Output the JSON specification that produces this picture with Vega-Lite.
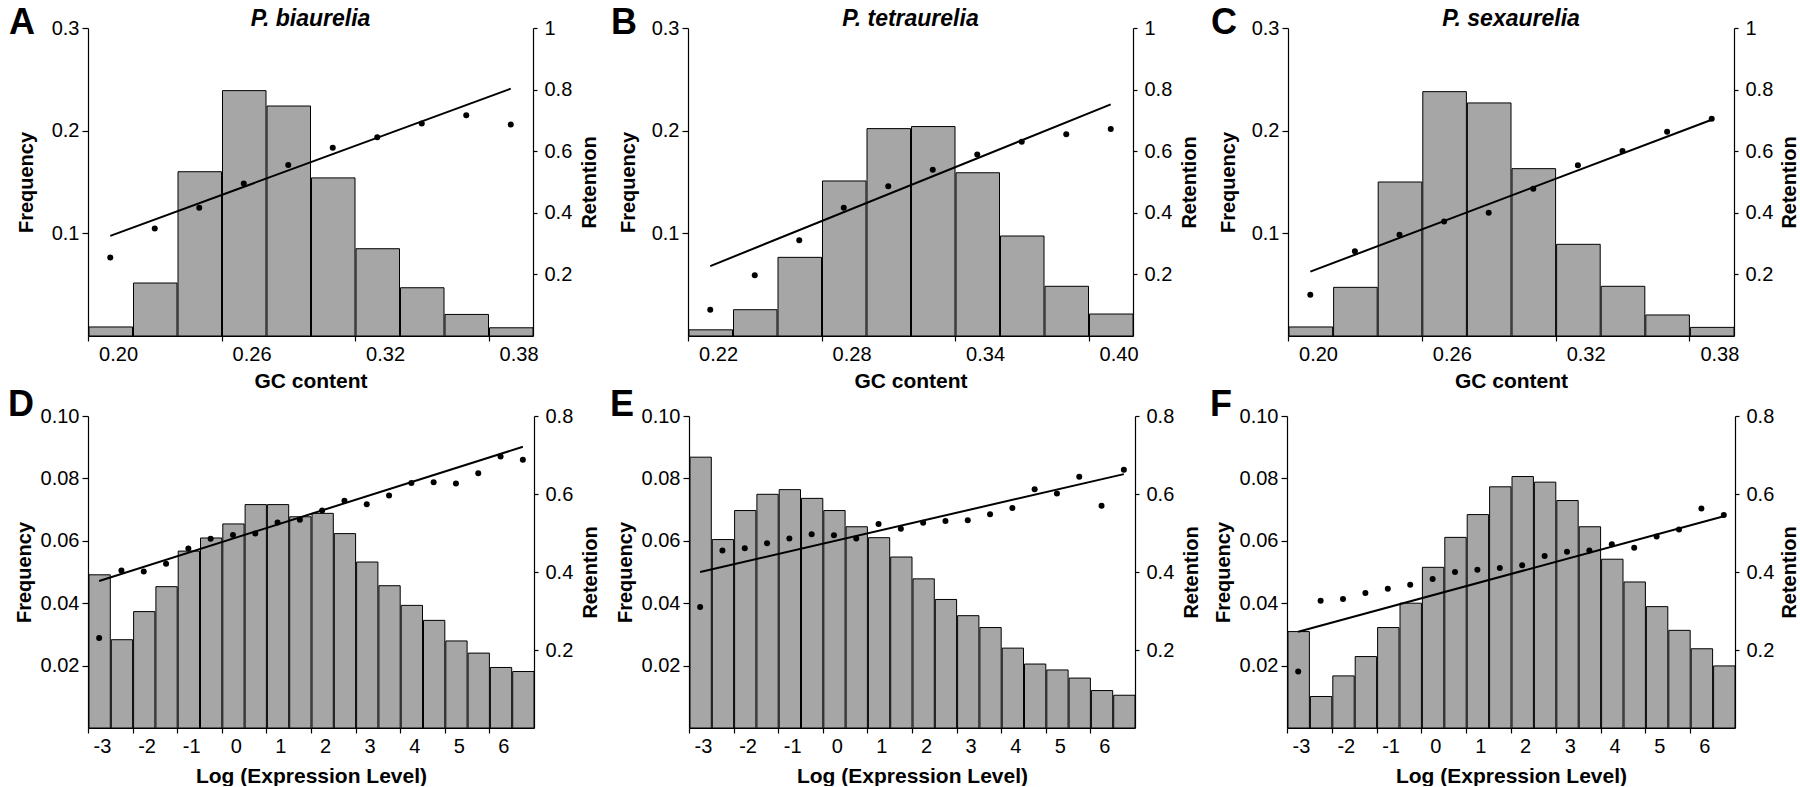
{
  "$schema": "https://vega.github.io/schema/vega-lite/v6.json",
  "background": "white",
  "padding": {"left": 8, "top": 5, "right": 0, "bottom": 0},
  "config": {
    "font": "Liberation Sans",
    "view": {"stroke": null},
    "axis": {
      "grid": false, "domainColor": "#000", "domainWidth": 1.2, "tickColor": "#000", "tickWidth": 1.2,
      "labelColor": "#000", "labelFontSize": 20, "labelFont": "Liberation Sans", "labelFlush": false, "labelOverlap": false,
      "titleFont": "Liberation Sans", "titleFontSize": 20, "titleFontWeight": "bold", "titleColor": "#000"
    },
    "axisX": {"titleFontSize": 21},
    "axisRight": {"titleAngle": 270, "titleBaseline": "top"},
    "title": {"color": "#000", "font": "Liberation Sans"}
  },
  "datasets": {
    "A": [
      {"lo": 0.19, "hi": 0.21, "mid": 0.20, "freq": 0.0088, "ret": 0.255},
      {"lo": 0.21, "hi": 0.23, "mid": 0.22, "freq": 0.0516, "ret": 0.349},
      {"lo": 0.23, "hi": 0.25, "mid": 0.24, "freq": 0.160, "ret": 0.416},
      {"lo": 0.25, "hi": 0.27, "mid": 0.26, "freq": 0.239, "ret": 0.495},
      {"lo": 0.27, "hi": 0.29, "mid": 0.28, "freq": 0.224, "ret": 0.555},
      {"lo": 0.29, "hi": 0.31, "mid": 0.30, "freq": 0.154, "ret": 0.611},
      {"lo": 0.31, "hi": 0.33, "mid": 0.32, "freq": 0.085, "ret": 0.645},
      {"lo": 0.33, "hi": 0.35, "mid": 0.34, "freq": 0.047, "ret": 0.690},
      {"lo": 0.35, "hi": 0.37, "mid": 0.36, "freq": 0.021, "ret": 0.717},
      {"lo": 0.37, "hi": 0.39, "mid": 0.38, "freq": 0.008, "ret": 0.687}
    ],
    "A_fit": [{"mid": 0.20, "ret": 0.325}, {"mid": 0.38, "ret": 0.803}],
    "B": [
      {"lo": 0.21, "hi": 0.23, "mid": 0.22, "freq": 0.006, "ret": 0.085},
      {"lo": 0.23, "hi": 0.25, "mid": 0.24, "freq": 0.0256, "ret": 0.197},
      {"lo": 0.25, "hi": 0.27, "mid": 0.26, "freq": 0.0766, "ret": 0.311},
      {"lo": 0.27, "hi": 0.29, "mid": 0.28, "freq": 0.151, "ret": 0.416},
      {"lo": 0.29, "hi": 0.31, "mid": 0.30, "freq": 0.202, "ret": 0.486},
      {"lo": 0.31, "hi": 0.33, "mid": 0.32, "freq": 0.204, "ret": 0.540},
      {"lo": 0.33, "hi": 0.35, "mid": 0.34, "freq": 0.159, "ret": 0.589},
      {"lo": 0.35, "hi": 0.37, "mid": 0.36, "freq": 0.0974, "ret": 0.631},
      {"lo": 0.37, "hi": 0.39, "mid": 0.38, "freq": 0.0484, "ret": 0.655},
      {"lo": 0.39, "hi": 0.41, "mid": 0.40, "freq": 0.0214, "ret": 0.672}
    ],
    "B_fit": [{"mid": 0.22, "ret": 0.227}, {"mid": 0.40, "ret": 0.752}],
    "C": [
      {"lo": 0.19, "hi": 0.21, "mid": 0.20, "freq": 0.0088, "ret": 0.134},
      {"lo": 0.21, "hi": 0.23, "mid": 0.22, "freq": 0.0474, "ret": 0.275},
      {"lo": 0.23, "hi": 0.25, "mid": 0.24, "freq": 0.150, "ret": 0.329},
      {"lo": 0.25, "hi": 0.27, "mid": 0.26, "freq": 0.238, "ret": 0.372},
      {"lo": 0.27, "hi": 0.29, "mid": 0.28, "freq": 0.227, "ret": 0.400},
      {"lo": 0.29, "hi": 0.31, "mid": 0.30, "freq": 0.163, "ret": 0.478},
      {"lo": 0.31, "hi": 0.33, "mid": 0.32, "freq": 0.0893, "ret": 0.554},
      {"lo": 0.33, "hi": 0.35, "mid": 0.34, "freq": 0.0484, "ret": 0.601},
      {"lo": 0.35, "hi": 0.37, "mid": 0.36, "freq": 0.0205, "ret": 0.663},
      {"lo": 0.37, "hi": 0.39, "mid": 0.38, "freq": 0.0084, "ret": 0.705}
    ],
    "C_fit": [{"mid": 0.20, "ret": 0.209}, {"mid": 0.38, "ret": 0.702}],
    "D": [
      {"lo": -3.25, "hi": -2.75, "mid": -3.0, "freq": 0.0491, "ret": 0.231},
      {"lo": -2.75, "hi": -2.25, "mid": -2.5, "freq": 0.0283, "ret": 0.404},
      {"lo": -2.25, "hi": -1.75, "mid": -2.0, "freq": 0.0373, "ret": 0.401},
      {"lo": -1.75, "hi": -1.25, "mid": -1.5, "freq": 0.0453, "ret": 0.421},
      {"lo": -1.25, "hi": -0.75, "mid": -1.0, "freq": 0.0567, "ret": 0.460},
      {"lo": -0.75, "hi": -0.25, "mid": -0.5, "freq": 0.0609, "ret": 0.485},
      {"lo": -0.25, "hi": 0.25, "mid": 0.0, "freq": 0.0654, "ret": 0.495},
      {"lo": 0.25, "hi": 0.75, "mid": 0.5, "freq": 0.0716, "ret": 0.499},
      {"lo": 0.75, "hi": 1.25, "mid": 1.0, "freq": 0.0716, "ret": 0.527},
      {"lo": 1.25, "hi": 1.75, "mid": 1.5, "freq": 0.0677, "ret": 0.534},
      {"lo": 1.75, "hi": 2.25, "mid": 2.0, "freq": 0.0688, "ret": 0.558},
      {"lo": 2.25, "hi": 2.75, "mid": 2.5, "freq": 0.0623, "ret": 0.583},
      {"lo": 2.75, "hi": 3.25, "mid": 3.0, "freq": 0.0532, "ret": 0.574},
      {"lo": 3.25, "hi": 3.75, "mid": 3.5, "freq": 0.0456, "ret": 0.596},
      {"lo": 3.75, "hi": 4.25, "mid": 4.0, "freq": 0.0393, "ret": 0.628},
      {"lo": 4.25, "hi": 4.75, "mid": 4.5, "freq": 0.0345, "ret": 0.630},
      {"lo": 4.75, "hi": 5.25, "mid": 5.0, "freq": 0.0279, "ret": 0.627},
      {"lo": 5.25, "hi": 5.75, "mid": 5.5, "freq": 0.0240, "ret": 0.653},
      {"lo": 5.75, "hi": 6.25, "mid": 6.0, "freq": 0.0194, "ret": 0.696},
      {"lo": 6.25, "hi": 6.75, "mid": 6.5, "freq": 0.0181, "ret": 0.688}
    ],
    "D_fit": [{"mid": -3.0, "ret": 0.377}, {"mid": 6.5, "ret": 0.721}],
    "E": [
      {"lo": -3.25, "hi": -2.75, "mid": -3.0, "freq": 0.0868, "ret": 0.310},
      {"lo": -2.75, "hi": -2.25, "mid": -2.5, "freq": 0.0604, "ret": 0.455},
      {"lo": -2.25, "hi": -1.75, "mid": -2.0, "freq": 0.0697, "ret": 0.461},
      {"lo": -1.75, "hi": -1.25, "mid": -1.5, "freq": 0.0749, "ret": 0.474},
      {"lo": -1.25, "hi": -0.75, "mid": -1.0, "freq": 0.0764, "ret": 0.486},
      {"lo": -0.75, "hi": -0.25, "mid": -0.5, "freq": 0.0736, "ret": 0.497},
      {"lo": -0.25, "hi": 0.25, "mid": 0.0, "freq": 0.0697, "ret": 0.494},
      {"lo": 0.25, "hi": 0.75, "mid": 0.5, "freq": 0.0645, "ret": 0.486},
      {"lo": 0.75, "hi": 1.25, "mid": 1.0, "freq": 0.0610, "ret": 0.523},
      {"lo": 1.25, "hi": 1.75, "mid": 1.5, "freq": 0.0548, "ret": 0.511},
      {"lo": 1.75, "hi": 2.25, "mid": 2.0, "freq": 0.0478, "ret": 0.526},
      {"lo": 2.25, "hi": 2.75, "mid": 2.5, "freq": 0.0412, "ret": 0.531},
      {"lo": 2.75, "hi": 3.25, "mid": 3.0, "freq": 0.0360, "ret": 0.533},
      {"lo": 3.25, "hi": 3.75, "mid": 3.5, "freq": 0.0322, "ret": 0.548},
      {"lo": 3.75, "hi": 4.25, "mid": 4.0, "freq": 0.0256, "ret": 0.564},
      {"lo": 4.25, "hi": 4.75, "mid": 4.5, "freq": 0.0205, "ret": 0.612},
      {"lo": 4.75, "hi": 5.25, "mid": 5.0, "freq": 0.0186, "ret": 0.601},
      {"lo": 5.25, "hi": 5.75, "mid": 5.5, "freq": 0.0160, "ret": 0.644},
      {"lo": 5.75, "hi": 6.25, "mid": 6.0, "freq": 0.0120, "ret": 0.570},
      {"lo": 6.25, "hi": 6.75, "mid": 6.5, "freq": 0.0105, "ret": 0.662}
    ],
    "E_fit": [{"mid": -3.0, "ret": 0.400}, {"mid": 6.5, "ret": 0.651}],
    "F": [
      {"lo": -3.25, "hi": -2.75, "mid": -3.0, "freq": 0.0309, "ret": 0.145},
      {"lo": -2.75, "hi": -2.25, "mid": -2.5, "freq": 0.0101, "ret": 0.326},
      {"lo": -2.25, "hi": -1.75, "mid": -2.0, "freq": 0.0167, "ret": 0.331},
      {"lo": -1.75, "hi": -1.25, "mid": -1.5, "freq": 0.0229, "ret": 0.346},
      {"lo": -1.25, "hi": -0.75, "mid": -1.0, "freq": 0.0322, "ret": 0.357},
      {"lo": -0.75, "hi": -0.25, "mid": -0.5, "freq": 0.0400, "ret": 0.367},
      {"lo": -0.25, "hi": 0.25, "mid": 0.0, "freq": 0.0515, "ret": 0.382},
      {"lo": 0.25, "hi": 0.75, "mid": 0.5, "freq": 0.0611, "ret": 0.400},
      {"lo": 0.75, "hi": 1.25, "mid": 1.0, "freq": 0.0684, "ret": 0.406},
      {"lo": 1.25, "hi": 1.75, "mid": 1.5, "freq": 0.0773, "ret": 0.410},
      {"lo": 1.75, "hi": 2.25, "mid": 2.0, "freq": 0.0806, "ret": 0.417},
      {"lo": 2.25, "hi": 2.75, "mid": 2.5, "freq": 0.0788, "ret": 0.441},
      {"lo": 2.75, "hi": 3.25, "mid": 3.0, "freq": 0.0729, "ret": 0.452},
      {"lo": 3.25, "hi": 3.75, "mid": 3.5, "freq": 0.0645, "ret": 0.455},
      {"lo": 3.75, "hi": 4.25, "mid": 4.0, "freq": 0.0541, "ret": 0.471},
      {"lo": 4.25, "hi": 4.75, "mid": 4.5, "freq": 0.0468, "ret": 0.462},
      {"lo": 4.75, "hi": 5.25, "mid": 5.0, "freq": 0.0389, "ret": 0.491},
      {"lo": 5.25, "hi": 5.75, "mid": 5.5, "freq": 0.0313, "ret": 0.509},
      {"lo": 5.75, "hi": 6.25, "mid": 6.0, "freq": 0.0254, "ret": 0.563},
      {"lo": 6.25, "hi": 6.75, "mid": 6.5, "freq": 0.0199, "ret": 0.546}
    ],
    "F_fit": [{"mid": -3.0, "ret": 0.247}, {"mid": 6.5, "ret": 0.543}]
  },
  "spacing": -4,
  "vconcat": [
    {
      "spacing": 11,
      "hconcat": [
        {
          "width": 445, "height": 308,
          "title": {"text": "P. biaurelia", "fontSize": 23, "fontStyle": "italic", "fontWeight": "bold", "offset": -26},
          "data": {"name": "A"},
          "layer": [
            {"layer": [
              {"mark": {"type": "bar", "fill": "#a6a6a6", "stroke": "#000", "strokeWidth": 1},
               "encoding": {
                 "x": {"field": "lo", "type": "quantitative", "bin": "binned", "scale": {"domain": [0.19, 0.39], "nice": false, "zero": false},
                       "axis": {"title": "GC content", "values": [0.2, 0.26, 0.32, 0.38], "format": ".2f", "tickOffset": -22.2, "labelOffset": 30, "tickSize": 5, "labelPadding": 3, "titlePadding": 6}},
                 "x2": {"field": "hi"},
                 "y": {"field": "freq", "type": "quantitative", "scale": {"domain": [0, 0.3], "nice": false},
                       "axis": {"title": "Frequency", "values": [0.1, 0.2, 0.3], "format": ".1f", "tickSize": 6, "labelPadding": 3, "titlePadding": 15}}
               }},
              {"data": {"values": [{}]},
               "mark": {"type": "text", "text": "A", "fontSize": 36, "fontWeight": "bold", "align": "center", "baseline": "alphabetic", "dx": -66, "dy": 6},
               "encoding": {"x": {"datum": 0.19}, "y": {"datum": 0.3}}}
            ]},
            {"encoding": {
               "x": {"field": "mid", "type": "quantitative", "scale": {"domain": [0.19, 0.39], "nice": false, "zero": false},
                     "axis": {"title": "GC content", "values": [0.2, 0.26, 0.32, 0.38], "format": ".2f", "tickOffset": -22.2, "labelOffset": 30, "tickSize": 5, "labelPadding": 3, "titlePadding": 6}},
               "y": {"field": "ret", "type": "quantitative", "scale": {"domain": [0, 1], "nice": false},
                     "axis": {"title": "Retention", "orient": "right", "values": [0.2, 0.4, 0.6, 0.8, 1], "format": "~g", "tickSize": 4, "labelPadding": 7, "titlePadding": 8}}},
             "layer": [
               {"data": {"name": "A_fit"}, "mark": {"type": "line", "color": "#000", "strokeWidth": 2}},
               {"mark": {"type": "circle", "color": "#000", "size": 36, "opacity": 1}}
             ]}
          ],
          "resolve": {"scale": {"y": "independent"}}
        },
        {
          "width": 445, "height": 308,
          "title": {"text": "P. tetraurelia", "fontSize": 23, "fontStyle": "italic", "fontWeight": "bold", "offset": -26},
          "data": {"name": "B"},
          "layer": [
            {"layer": [
              {"mark": {"type": "bar", "fill": "#a6a6a6", "stroke": "#000", "strokeWidth": 1},
               "encoding": {
                 "x": {"field": "lo", "type": "quantitative", "bin": "binned", "scale": {"domain": [0.21, 0.41], "nice": false, "zero": false},
                       "axis": {"title": "GC content", "values": [0.22, 0.28, 0.34, 0.40], "format": ".2f", "tickOffset": -22.2, "labelOffset": 30, "tickSize": 5, "labelPadding": 3, "titlePadding": 6}},
                 "x2": {"field": "hi"},
                 "y": {"field": "freq", "type": "quantitative", "scale": {"domain": [0, 0.3], "nice": false},
                       "axis": {"title": "Frequency", "values": [0.1, 0.2, 0.3], "format": ".1f", "tickSize": 6, "labelPadding": 3, "titlePadding": 13}}
               }},
              {"data": {"values": [{}]},
               "mark": {"type": "text", "text": "B", "fontSize": 36, "fontWeight": "bold", "align": "center", "baseline": "alphabetic", "dx": -64, "dy": 6},
               "encoding": {"x": {"datum": 0.21}, "y": {"datum": 0.3}}}
            ]},
            {"encoding": {
               "x": {"field": "mid", "type": "quantitative", "scale": {"domain": [0.21, 0.41], "nice": false, "zero": false},
                     "axis": {"title": "GC content", "values": [0.22, 0.28, 0.34, 0.40], "format": ".2f", "tickOffset": -22.2, "labelOffset": 30, "tickSize": 5, "labelPadding": 3, "titlePadding": 6}},
               "y": {"field": "ret", "type": "quantitative", "scale": {"domain": [0, 1], "nice": false},
                     "axis": {"title": "Retention", "orient": "right", "values": [0.2, 0.4, 0.6, 0.8, 1], "format": "~g", "tickSize": 4, "labelPadding": 7, "titlePadding": 8}}},
             "layer": [
               {"data": {"name": "B_fit"}, "mark": {"type": "line", "color": "#000", "strokeWidth": 2}},
               {"mark": {"type": "circle", "color": "#000", "size": 36, "opacity": 1}}
             ]}
          ],
          "resolve": {"scale": {"y": "independent"}}
        },
        {
          "width": 446, "height": 308,
          "title": {"text": "P. sexaurelia", "fontSize": 23, "fontStyle": "italic", "fontWeight": "bold", "offset": -26},
          "data": {"name": "C"},
          "layer": [
            {"layer": [
              {"mark": {"type": "bar", "fill": "#a6a6a6", "stroke": "#000", "strokeWidth": 1},
               "encoding": {
                 "x": {"field": "lo", "type": "quantitative", "bin": "binned", "scale": {"domain": [0.19, 0.39], "nice": false, "zero": false},
                       "axis": {"title": "GC content", "values": [0.2, 0.26, 0.32, 0.38], "format": ".2f", "tickOffset": -22.3, "labelOffset": 30, "tickSize": 5, "labelPadding": 3, "titlePadding": 6}},
                 "x2": {"field": "hi"},
                 "y": {"field": "freq", "type": "quantitative", "scale": {"domain": [0, 0.3], "nice": false},
                       "axis": {"title": "Frequency", "values": [0.1, 0.2, 0.3], "format": ".1f", "tickSize": 6, "labelPadding": 3, "titlePadding": 13}}
               }},
              {"data": {"values": [{}]},
               "mark": {"type": "text", "text": "C", "fontSize": 36, "fontWeight": "bold", "align": "center", "baseline": "alphabetic", "dx": -64, "dy": 6},
               "encoding": {"x": {"datum": 0.19}, "y": {"datum": 0.3}}}
            ]},
            {"encoding": {
               "x": {"field": "mid", "type": "quantitative", "scale": {"domain": [0.19, 0.39], "nice": false, "zero": false},
                     "axis": {"title": "GC content", "values": [0.2, 0.26, 0.32, 0.38], "format": ".2f", "tickOffset": -22.3, "labelOffset": 30, "tickSize": 5, "labelPadding": 3, "titlePadding": 6}},
               "y": {"field": "ret", "type": "quantitative", "scale": {"domain": [0, 1], "nice": false},
                     "axis": {"title": "Retention", "orient": "right", "values": [0.2, 0.4, 0.6, 0.8, 1], "format": "~g", "tickSize": 4, "labelPadding": 7, "titlePadding": 7}}},
             "layer": [
               {"data": {"name": "C_fit"}, "mark": {"type": "line", "color": "#000", "strokeWidth": 2}},
               {"mark": {"type": "circle", "color": "#000", "size": 36, "opacity": 1}}
             ]}
          ],
          "resolve": {"scale": {"y": "independent"}}
        }
      ]
    },
    {
      "spacing": 8,
      "hconcat": [
        {
          "width": 446, "height": 312,
          "data": {"name": "D"},
          "layer": [
            {"layer": [
              {"mark": {"type": "bar", "fill": "#a6a6a6", "stroke": "#000", "strokeWidth": 1},
               "encoding": {
                 "x": {"field": "lo", "type": "quantitative", "bin": "binned", "scale": {"domain": [-3.25, 6.75], "nice": false, "zero": false},
                       "axis": {"title": "Log (Expression Level)", "values": [-3, -2, -1, 0, 1, 2, 3, 4, 5, 6], "labelExpr": "'' + datum.value", "tickOffset": -11.15, "labelOffset": 14, "tickSize": 5, "labelPadding": 3, "titlePadding": 9}},
                 "x2": {"field": "hi"},
                 "y": {"field": "freq", "type": "quantitative", "scale": {"domain": [0, 0.1], "nice": false},
                       "axis": {"title": "Frequency", "values": [0.02, 0.04, 0.06, 0.08, 0.1], "format": ".2f", "tickSize": 6, "labelPadding": 3, "titlePadding": 6}}
               }},
              {"data": {"values": [{}]},
               "mark": {"type": "text", "text": "D", "fontSize": 36, "fontWeight": "bold", "align": "center", "baseline": "alphabetic", "dx": -67, "dy": 0},
               "encoding": {"x": {"datum": -3.25}, "y": {"datum": 0.1}}}
            ]},
            {"encoding": {
               "x": {"field": "mid", "type": "quantitative", "scale": {"domain": [-3.25, 6.75], "nice": false, "zero": false},
                     "axis": {"title": "Log (Expression Level)", "values": [-3, -2, -1, 0, 1, 2, 3, 4, 5, 6], "labelExpr": "'' + datum.value", "tickOffset": -11.15, "labelOffset": 14, "tickSize": 5, "labelPadding": 3, "titlePadding": 9}},
               "y": {"field": "ret", "type": "quantitative", "scale": {"domain": [0, 0.8], "nice": false},
                     "axis": {"title": "Retention", "orient": "right", "values": [0.2, 0.4, 0.6, 0.8], "format": "~g", "tickSize": 4, "labelPadding": 7, "titlePadding": 8}}},
             "layer": [
               {"data": {"name": "D_fit"}, "mark": {"type": "line", "color": "#000", "strokeWidth": 2}},
               {"mark": {"type": "circle", "color": "#000", "size": 36, "opacity": 1}}
             ]}
          ],
          "resolve": {"scale": {"y": "independent"}}
        },
        {
          "width": 446, "height": 312,
          "data": {"name": "E"},
          "layer": [
            {"layer": [
              {"mark": {"type": "bar", "fill": "#a6a6a6", "stroke": "#000", "strokeWidth": 1},
               "encoding": {
                 "x": {"field": "lo", "type": "quantitative", "bin": "binned", "scale": {"domain": [-3.25, 6.75], "nice": false, "zero": false},
                       "axis": {"title": "Log (Expression Level)", "values": [-3, -2, -1, 0, 1, 2, 3, 4, 5, 6], "labelExpr": "'' + datum.value", "tickOffset": -11.15, "labelOffset": 14, "tickSize": 5, "labelPadding": 3, "titlePadding": 9}},
                 "x2": {"field": "hi"},
                 "y": {"field": "freq", "type": "quantitative", "scale": {"domain": [0, 0.1], "nice": false},
                       "axis": {"title": "Frequency", "values": [0.02, 0.04, 0.06, 0.08, 0.1], "format": ".2f", "tickSize": 6, "labelPadding": 3, "titlePadding": 6}}
               }},
              {"data": {"values": [{}]},
               "mark": {"type": "text", "text": "E", "fontSize": 36, "fontWeight": "bold", "align": "center", "baseline": "alphabetic", "dx": -67, "dy": 0},
               "encoding": {"x": {"datum": -3.25}, "y": {"datum": 0.1}}}
            ]},
            {"encoding": {
               "x": {"field": "mid", "type": "quantitative", "scale": {"domain": [-3.25, 6.75], "nice": false, "zero": false},
                     "axis": {"title": "Log (Expression Level)", "values": [-3, -2, -1, 0, 1, 2, 3, 4, 5, 6], "labelExpr": "'' + datum.value", "tickOffset": -11.15, "labelOffset": 14, "tickSize": 5, "labelPadding": 3, "titlePadding": 9}},
               "y": {"field": "ret", "type": "quantitative", "scale": {"domain": [0, 0.8], "nice": false},
                     "axis": {"title": "Retention", "orient": "right", "values": [0.2, 0.4, 0.6, 0.8], "format": "~g", "tickSize": 4, "labelPadding": 7, "titlePadding": 8}}},
             "layer": [
               {"data": {"name": "E_fit"}, "mark": {"type": "line", "color": "#000", "strokeWidth": 2}},
               {"mark": {"type": "circle", "color": "#000", "size": 36, "opacity": 1}}
             ]}
          ],
          "resolve": {"scale": {"y": "independent"}}
        },
        {
          "width": 448, "height": 312,
          "data": {"name": "F"},
          "layer": [
            {"layer": [
              {"mark": {"type": "bar", "fill": "#a6a6a6", "stroke": "#000", "strokeWidth": 1},
               "encoding": {
                 "x": {"field": "lo", "type": "quantitative", "bin": "binned", "scale": {"domain": [-3.25, 6.75], "nice": false, "zero": false},
                       "axis": {"title": "Log (Expression Level)", "values": [-3, -2, -1, 0, 1, 2, 3, 4, 5, 6], "labelExpr": "'' + datum.value", "tickOffset": -11.2, "labelOffset": 14, "tickSize": 5, "labelPadding": 3, "titlePadding": 9}},
                 "x2": {"field": "hi"},
                 "y": {"field": "freq", "type": "quantitative", "scale": {"domain": [0, 0.1], "nice": false},
                       "axis": {"title": "Frequency", "values": [0.02, 0.04, 0.06, 0.08, 0.1], "format": ".2f", "tickSize": 6, "labelPadding": 3, "titlePadding": 6}}
               }},
              {"data": {"values": [{}]},
               "mark": {"type": "text", "text": "F", "fontSize": 36, "fontWeight": "bold", "align": "center", "baseline": "alphabetic", "dx": -66, "dy": 0},
               "encoding": {"x": {"datum": -3.25}, "y": {"datum": 0.1}}}
            ]},
            {"encoding": {
               "x": {"field": "mid", "type": "quantitative", "scale": {"domain": [-3.25, 6.75], "nice": false, "zero": false},
                     "axis": {"title": "Log (Expression Level)", "values": [-3, -2, -1, 0, 1, 2, 3, 4, 5, 6], "labelExpr": "'' + datum.value", "tickOffset": -11.2, "labelOffset": 14, "tickSize": 5, "labelPadding": 3, "titlePadding": 9}},
               "y": {"field": "ret", "type": "quantitative", "scale": {"domain": [0, 0.8], "nice": false},
                     "axis": {"title": "Retention", "orient": "right", "values": [0.2, 0.4, 0.6, 0.8], "format": "~g", "tickSize": 4, "labelPadding": 7, "titlePadding": 6}}},
             "layer": [
               {"data": {"name": "F_fit"}, "mark": {"type": "line", "color": "#000", "strokeWidth": 2}},
               {"mark": {"type": "circle", "color": "#000", "size": 36, "opacity": 1}}
             ]}
          ],
          "resolve": {"scale": {"y": "independent"}}
        }
      ]
    }
  ]
}
